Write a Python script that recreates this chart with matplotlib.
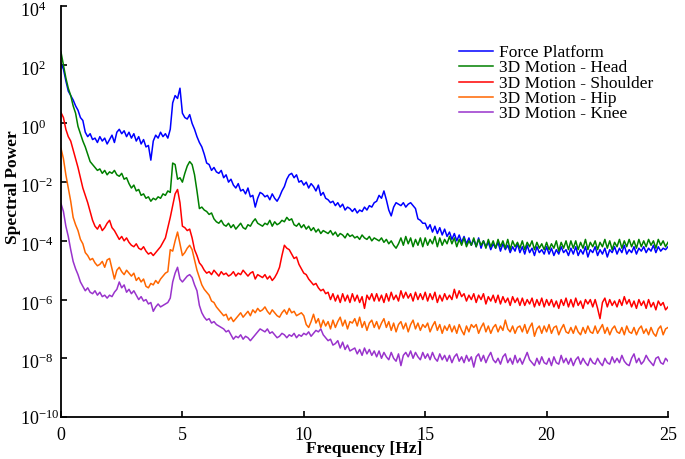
import numpy as np
import matplotlib
matplotlib.use("Agg")
import matplotlib.pyplot as plt
import matplotlib.transforms as mtransforms
from matplotlib.ticker import LogFormatterMathtext, FixedLocator

plt.rcParams["font.family"] = ["Liberation Serif", "DejaVu Serif"]
plt.rcParams["mathtext.fontset"] = "custom"
plt.rcParams["mathtext.rm"] = "Liberation Serif"
plt.rcParams["mathtext.it"] = "Liberation Serif:italic"
plt.rcParams["mathtext.bf"] = "Liberation Serif:bold"

# frequency grid, 0.1 Hz steps from 0 to 25 Hz
freq = np.linspace(0, 25, 251)

# log10 of spectral power, one row per 1 Hz (x.0 ... x.9)
force_log = [
    2.04, 1.85, 1.45, 1.1, 0.95, 0.8, 0.6, 0.45, 0.2, 0.1,
    -0.3, -0.45, -0.35, -0.55, -0.5, -0.65, -0.45, -0.6, -0.5, -0.7,
    -0.55, -0.4, -0.65, -0.3, -0.2, -0.35, -0.25, -0.45, -0.3, -0.5,
    -0.35, -0.6, -0.45, -0.7, -0.55, -0.8, -0.75, -1.25, -0.6, -0.4,
    -0.5, -0.3, -0.45, -0.35, -0.5, -0.2, 0.7, 0.95, 0.85, 1.2,
    0.35, 0.2, 0.15, 0.3, 0.0, -0.2, -0.45, -0.65, -0.8, -1.05,
    -1.35, -1.4, -1.6, -1.5, -1.65, -1.7, -1.6, -1.85, -1.75, -2.0,
    -1.9, -2.1, -2.2, -2.05, -2.3, -2.25, -2.4, -2.2, -2.5, -2.45,
    -2.85, -2.55, -2.35, -2.4, -2.5, -2.45, -2.6, -2.4, -2.55, -2.65,
    -2.5, -2.3, -2.15, -1.9, -1.75, -1.7, -1.85, -1.75, -2.0, -1.95,
    -2.1, -2.0, -2.2, -2.05, -2.15, -2.3, -2.1, -2.45, -2.35, -2.55,
    -2.6, -2.7, -2.65, -2.8, -2.7, -2.85, -2.75, -2.95, -2.85, -2.9,
    -3.0, -2.9, -3.05, -2.95, -3.0, -2.85, -2.95, -2.8, -2.85, -2.7,
    -2.65, -2.45, -2.55, -2.3, -2.6, -2.95, -3.15, -2.85, -2.7, -2.75,
    -2.8, -2.7, -2.85, -2.75, -2.7, -2.8, -2.9, -3.25, -3.3, -3.4,
    -3.4, -3.6, -3.45, -3.7, -3.5, -3.75, -3.55, -3.8, -3.6, -3.85,
    -3.7, -3.95, -3.75, -4.0, -3.8, -4.05, -3.85, -4.1, -3.9, -4.15,
    -3.95, -4.2, -3.9, -4.25, -4.0, -4.2, -4.05, -4.3, -4.1, -4.25,
    -4.05, -4.35, -4.1, -4.3, -4.15, -4.4, -4.2, -4.35, -4.1, -4.4,
    -4.2, -4.45, -4.15, -4.4, -4.25, -4.5, -4.2, -4.4, -4.3, -4.45,
    -4.2, -4.45, -4.25, -4.5, -4.3, -4.45, -4.2, -4.4, -4.3, -4.5,
    -4.25, -4.45, -4.2, -4.5, -4.3, -4.45, -4.2, -4.55, -4.3, -4.4,
    -4.2, -4.5, -4.3, -4.45, -4.25, -4.55, -4.3, -4.4, -4.2, -4.45,
    -4.25, -4.4, -4.15, -4.45, -4.3, -4.4, -4.2, -4.45, -4.25, -4.35,
    -4.2, -4.4, -4.25, -4.35, -4.15, -4.4, -4.2, -4.35, -4.25, -4.3,
    -4.2,
]

head_log = [
    2.43, 2.0, 1.55, 1.2, 0.95, 0.6, 0.35, -0.1, -0.35, -0.6,
    -0.8, -1.05, -1.3, -1.4, -1.5, -1.6, -1.55, -1.7, -1.6, -1.75,
    -1.65, -1.7, -1.6, -1.75, -1.8, -1.7, -1.9, -1.85, -2.05, -2.2,
    -2.1, -2.3, -2.25, -2.45, -2.4, -2.55, -2.5, -2.65, -2.55, -2.6,
    -2.5, -2.55, -2.4, -2.45, -2.3, -2.35, -1.35, -1.4, -1.9, -1.85,
    -2.0, -1.7, -1.45, -1.3, -1.4, -1.75, -2.3, -2.9, -2.85, -2.95,
    -3.0, -3.1, -3.05, -3.25, -3.35, -3.4, -3.3, -3.45, -3.5, -3.4,
    -3.55, -3.45, -3.6, -3.5, -3.4, -3.55, -3.6, -3.45, -3.5, -3.35,
    -3.25, -3.4, -3.45, -3.5, -3.4, -3.45, -3.3, -3.5, -3.35, -3.45,
    -3.4, -3.3, -3.35, -3.2, -3.3, -3.25, -3.45, -3.5, -3.4, -3.55,
    -3.45, -3.6, -3.5, -3.65, -3.55, -3.7, -3.6, -3.75, -3.65, -3.7,
    -3.75, -3.65, -3.8, -3.7, -3.85, -3.75, -3.8, -3.9, -3.75, -3.85,
    -3.8, -3.9, -3.85, -3.95, -3.8, -3.9, -3.95, -3.85, -4.0, -3.9,
    -3.95, -4.0, -3.9, -4.05, -3.95, -4.1, -4.0, -4.15, -4.25, -4.1,
    -3.9, -4.15, -3.85, -4.1, -3.9, -4.2, -3.95, -4.15, -3.9, -4.2,
    -3.9, -4.15, -3.95, -4.1, -3.85, -4.2, -3.9, -4.15, -3.95, -4.1,
    -3.85, -4.1, -3.9, -4.2, -3.95, -4.15, -3.9, -4.2, -4.0, -4.15,
    -3.9, -4.2, -3.95, -4.15, -4.0, -4.25, -3.95, -4.2, -4.0, -4.25,
    -3.95, -4.2, -4.0, -4.25, -3.95, -4.3, -4.0, -4.2, -4.05, -4.25,
    -4.0, -4.3, -4.05, -4.2, -4.0, -4.3, -4.05, -4.25, -4.1, -4.3,
    -4.05, -4.3, -4.1, -4.25, -4.0, -4.35, -4.05, -4.25, -4.0, -4.3,
    -4.0, -4.25, -4.0, -4.3, -4.05, -4.25, -3.95, -4.3, -4.05, -4.2,
    -4.0, -4.3, -4.05, -4.2, -3.95, -4.25, -4.0, -4.3, -4.05, -4.2,
    -3.95, -4.25, -4.0, -4.2, -3.95, -4.2, -4.0, -4.25, -3.95, -4.2,
    -4.0, -4.2, -3.95, -4.15, -4.0, -4.25, -3.95, -4.15, -4.0, -4.2,
    -4.05,
]

shoulder_log = [
    0.37, 0.2, -0.2, -0.45, -0.6, -0.9, -1.2, -1.5, -1.85, -2.2,
    -2.45, -2.7, -3.0, -3.3, -3.5, -3.6, -3.45, -3.65, -3.55, -3.4,
    -3.3, -3.55, -3.65, -3.8, -3.95, -3.85, -4.0, -3.9, -4.05, -4.15,
    -4.2, -4.1, -4.25, -4.3, -4.2, -4.35, -4.45, -4.4, -4.5, -4.4,
    -4.3, -4.2, -4.05, -3.9, -3.55, -3.2, -2.8, -2.4, -2.25, -2.7,
    -3.5, -3.55, -3.65, -3.6, -3.9, -4.3, -4.5, -4.75, -4.85, -5.0,
    -5.1, -5.05, -5.15, -5.0, -5.1, -5.2, -5.05, -5.15, -5.1, -5.2,
    -5.15, -5.05, -5.2, -5.1, -5.15, -5.0, -5.1, -5.2, -5.1, -5.05,
    -5.3, -5.15, -5.2, -5.25, -5.15, -5.3, -5.2, -5.35, -5.25, -5.1,
    -4.9, -4.5, -4.15, -4.25, -4.3, -4.45, -4.6, -4.55, -4.8, -4.95,
    -5.1, -5.15, -5.3, -5.4, -5.5, -5.45, -5.6, -5.7, -5.65, -5.8,
    -5.75, -6.0, -5.8, -6.05, -5.85, -6.1, -5.8, -6.05, -5.85, -6.1,
    -5.8, -6.05, -5.85, -6.1, -5.9, -6.3, -5.85, -6.0, -5.8, -6.05,
    -5.8, -6.05, -5.85, -6.1, -5.8, -6.05, -5.75, -6.0, -5.85, -6.05,
    -5.7, -5.95, -5.75, -5.95, -5.8, -6.05, -5.75, -6.0, -5.8, -6.0,
    -5.75, -6.05, -5.8, -6.0, -5.75, -6.1, -5.85, -6.05, -5.8, -6.0,
    -5.85, -6.0, -5.65, -5.95, -5.7, -5.9, -5.8, -6.05, -5.85, -6.0,
    -5.8, -6.1, -5.85, -6.0, -5.8, -6.15, -5.9, -6.05, -5.85, -6.1,
    -5.85, -6.15, -5.9, -6.1, -5.95, -6.2, -5.9, -6.1, -5.95, -6.2,
    -5.95, -6.2, -6.0, -6.15, -5.95, -6.25, -6.0, -6.2, -5.95, -6.25,
    -6.0, -6.2, -6.0, -6.25, -6.05, -6.3, -6.0, -6.2, -5.95, -6.25,
    -6.0, -6.25, -5.95, -6.2, -6.05, -6.3, -6.0, -6.15, -6.0, -6.25,
    -6.0, -6.3, -6.65, -6.1, -5.95, -6.25, -6.0, -6.2, -6.05, -6.25,
    -6.0, -6.2, -5.9, -6.15, -6.0, -6.25, -6.05, -6.3, -6.0, -6.2,
    -6.05, -6.3, -6.0, -6.25, -6.1, -6.35, -6.05, -6.2, -6.1, -6.35,
    -6.25,
]

hip_log = [
    -0.85, -1.2, -1.75, -2.2, -2.65, -3.2, -3.45, -3.65, -3.95, -4.1,
    -4.4, -4.5, -4.65, -4.6, -4.75, -4.85, -4.8, -4.7, -4.9, -4.65,
    -4.6, -4.95, -5.3, -5.0, -4.9, -5.05, -5.15, -5.0, -5.1, -5.2,
    -5.1, -5.35, -5.25, -5.4, -5.3, -5.55, -5.6, -5.45, -5.5, -5.35,
    -5.45, -5.3, -5.2, -5.1, -5.05, -4.3, -4.35, -4.0, -3.7, -4.1,
    -4.5, -4.4, -4.25, -4.15, -4.3, -4.65, -5.0, -5.25, -5.5, -5.65,
    -5.75, -5.85, -6.05, -6.1, -6.25, -6.35, -6.45, -6.55, -6.5, -6.7,
    -6.6, -6.75, -6.65, -6.55, -6.45, -6.6, -6.5, -6.4, -6.55, -6.35,
    -6.45, -6.3, -6.4, -6.35, -6.25, -6.4, -6.5, -6.35, -6.45, -6.55,
    -6.6, -6.45, -6.35, -6.5, -6.3, -6.45, -6.4, -6.55, -6.5, -6.45,
    -6.55, -6.85, -6.95, -6.75, -6.5, -6.8, -6.65, -6.95, -6.7, -6.9,
    -6.75, -7.0, -6.7, -6.95, -6.75, -6.6, -6.9, -6.7, -7.0, -6.75,
    -6.8, -6.65, -6.9, -6.6, -6.95, -6.75, -7.05, -6.8, -6.7, -6.95,
    -6.75, -7.0, -6.8, -6.65, -6.95, -6.75, -7.05, -6.8, -7.1, -6.85,
    -6.75, -7.0, -6.8, -7.1, -6.85, -6.7, -7.0, -6.8, -7.05, -6.85,
    -6.95, -6.8, -7.1, -6.9, -6.75, -7.05, -6.85, -7.15, -6.9, -7.05,
    -6.85, -7.1, -6.9, -7.15, -6.85, -7.05, -7.2, -6.9, -7.1, -6.85,
    -6.95, -6.85, -7.15, -6.95, -6.8, -7.1, -6.9, -7.15, -6.95, -6.85,
    -7.1, -6.9, -7.05, -6.7, -7.0, -7.1, -6.9, -7.15, -6.95, -6.9,
    -7.1, -6.85, -7.15, -6.95, -6.8, -7.25, -7.0, -6.9, -7.15, -6.9,
    -7.1, -6.85, -7.15, -6.95, -6.9, -7.2, -7.0, -6.85, -7.1, -7.15,
    -6.95, -7.15, -6.9, -7.1, -7.2, -6.95, -7.15, -6.9, -7.1, -7.15,
    -6.9, -7.15, -7.0, -6.85, -7.15, -6.95, -7.2, -7.0, -6.9, -7.1,
    -7.15, -6.95, -7.2, -6.9, -7.1, -7.15, -6.95, -7.2, -7.0, -6.9,
    -7.15, -7.0, -7.2, -6.95, -7.15, -7.25, -7.0, -6.9, -7.2, -7.0,
    -6.95,
]

knee_log = [
    -2.73, -3.0, -3.5, -3.85, -4.3, -4.7, -4.95, -5.15, -5.4, -5.55,
    -5.7, -5.6, -5.75, -5.8, -5.7, -5.85, -5.75, -5.9, -5.85, -5.95,
    -5.85, -5.9, -5.75, -5.65, -5.4, -5.6, -5.5, -5.75, -5.65, -5.8,
    -5.7, -5.85, -6.0, -5.9, -6.05, -6.0, -6.15, -6.1, -6.4, -6.25,
    -6.15, -6.25, -6.2, -6.15, -6.1, -5.95, -5.4, -5.1, -4.9, -5.3,
    -5.4, -5.3, -5.2, -5.15, -5.25, -5.5, -5.7, -6.2, -6.45, -6.6,
    -6.7, -6.65, -6.8, -6.75, -6.85, -6.9, -6.95, -7.0, -7.1, -7.05,
    -7.2, -7.35, -7.25, -7.3, -7.2, -7.35, -7.25, -7.3, -7.4, -7.3,
    -7.2, -7.1, -7.0, -7.05, -7.1, -7.0, -7.15, -7.1, -7.2, -7.3,
    -7.25, -7.15, -7.2, -7.3, -7.2, -7.25, -7.15, -7.3, -7.2, -7.25,
    -7.15, -7.2, -7.1, -7.25, -7.15, -7.05, -7.1, -7.0, -7.2, -7.3,
    -7.4, -7.35, -7.55, -7.5, -7.4, -7.65, -7.45, -7.7, -7.55, -7.75,
    -7.7, -7.65, -7.85, -7.7, -7.9, -7.65, -7.85, -7.7, -7.9, -7.75,
    -7.95, -7.75, -8.0, -7.8, -7.95, -8.05, -7.8, -8.0, -8.1, -7.85,
    -8.25, -7.9, -7.8, -7.95, -7.75, -8.0, -7.8, -7.95, -8.05, -7.8,
    -8.0, -7.85, -8.05, -7.8, -8.0, -8.1, -7.85, -8.05, -7.9, -8.1,
    -7.9, -8.15, -7.95, -7.85, -8.1, -7.95, -8.15, -7.9, -8.1, -7.95,
    -8.3, -7.95, -7.85, -8.1, -7.9, -8.15, -7.95, -7.8, -8.05, -8.15,
    -8.0, -8.2, -7.95, -7.85, -8.15, -8.0, -8.2, -7.9, -8.15, -8.0,
    -8.2, -8.0, -7.8, -8.05, -8.15, -8.25, -8.0, -8.2, -7.95, -8.15,
    -8.2, -8.0, -8.25, -7.95, -8.15, -8.2, -7.9, -8.15, -8.0, -8.2,
    -8.0, -8.25, -8.05, -7.95, -8.2, -8.0, -8.15, -8.25, -8.0, -8.15,
    -8.2, -8.0, -8.15, -8.25, -8.0, -8.15, -8.2, -7.95, -8.15, -8.0,
    -8.15, -7.9, -8.1, -8.2, -8.25, -8.0, -7.85, -8.15, -8.0, -8.2,
    -8.1, -7.9, -8.05, -8.15, -8.25, -8.0, -7.95, -8.15, -8.2, -8.0,
    -8.1,
]

labels = [
    "Force Platform",
    "3D Motion - Head",
    "3D Motion - Shoulder",
    "3D Motion - Hip",
    "3D Motion - Knee",
]
colors = ["#0000FF", "#008000", "#FF0000", "#FF6600", "#9933CC"]
series = [force_log, head_log, shoulder_log, hip_log, knee_log]
y_ticks = [1e-10, 1e-8, 1e-6, 1e-4, 1e-2, 1e0, 1e2, 1e4]

fig = plt.figure(figsize=(6.85, 4.59), dpi=100)
ax = fig.add_axes([61 / 685, 1 - 417 / 459, 607 / 685, 411 / 459])

for vals, lab, col in zip(series, labels, colors):
    ax.plot(freq, 10.0 ** np.array(vals), color=col, linewidth=1.1, label=lab)

ax.set_yscale("log")
ax.set_xlim(0, 25)
ax.set_ylim(1e-10, 1e4)
ax.set_xticks([0, 5, 10, 15, 20, 25])
ax.yaxis.set_major_locator(FixedLocator(y_ticks))
ax.yaxis.set_minor_locator(FixedLocator([]))
ax.yaxis.set_major_formatter(LogFormatterMathtext())

for side in ["top", "right"]:
    ax.spines[side].set_visible(False)
for side in ["left", "bottom"]:
    ax.spines[side].set_linewidth(1.3)

ax.tick_params(axis="both", direction="in", length=4, width=1.2, colors="black")
ax.tick_params(axis="y", labelsize=13, pad=29.5)
ax.tick_params(axis="x", labelsize=13, pad=7)

# y tick labels are left-aligned; the upper ones sit a little below their ticks
for i, lab in enumerate(ax.get_yticklabels()):
    lab.set_horizontalalignment("left")
    if i > 0:
        shift = mtransforms.ScaledTranslation(0, -2.5 / 72, fig.dpi_scale_trans)
        lab.set_transform(lab.get_transform() + shift)

ax.set_xlabel("Frequency [Hz]", fontsize=12.5, fontweight="bold")
ax.set_ylabel("Spectral Power", fontsize=12.5, fontweight="bold")
ax.xaxis.set_label_coords(0.5, -0.058)
ax.yaxis.set_label_coords(-0.066, 0.56)

ax.legend(loc="upper left", bbox_to_anchor=(0.655, 0.905), frameon=False,
          fontsize=12.5, handlelength=2.0, handletextpad=0.3, labelspacing=-0.05,
          borderpad=0, borderaxespad=0)

fig.savefig("out.png", dpi=100)
